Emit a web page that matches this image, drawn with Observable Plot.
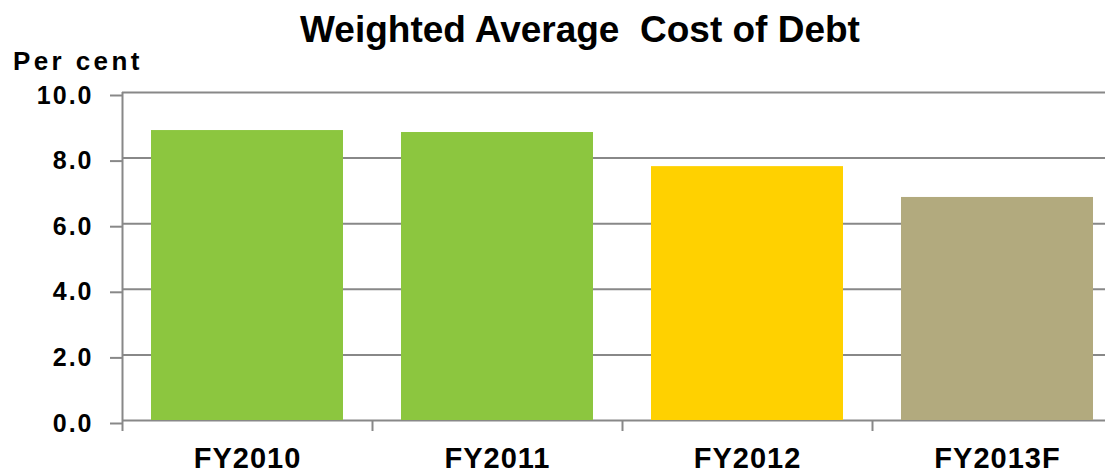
<!DOCTYPE html>
<html>
<head>
<meta charset="utf-8">
<script src="https://cdn.jsdelivr.net/npm/d3@7"></script>
<script src="https://cdn.jsdelivr.net/npm/@observablehq/plot@0.6"></script>
<style>
  html, body { margin: 0; padding: 0; background: #fff; }
  #wrap { position: relative; width: 1105px; height: 471px; font-family: "Liberation Sans", Arial, sans-serif; font-weight: bold; color: #000; }
  #head { position: relative; height: 80px; }
  #title { position: absolute; left: 580px; top: 11px; transform: translateX(-50%); font-size: 37px; line-height: 1; white-space: pre; }
  #unit { position: absolute; left: 13px; top: 48px; font-size: 26px; line-height: 1; letter-spacing: 3.4px; white-space: pre; }
  #chart svg { display: block; overflow: visible; }
  .ylab text { letter-spacing: 2px; }
  .xlab text { letter-spacing: 1px; }
</style>
</head>
<body>
<div id="wrap">
  <div id="head">
    <div id="title"></div>
    <div id="unit"></div>
  </div>
  <div id="chart"></div>
</div>
<script>
const titleText = "Weighted Average  Cost of Debt";
const unitText = "Per cent";
const categories = ["FY2010", "FY2011", "FY2012", "FY2013F"];
const values = [8.84, 8.78, 7.74, 6.80];
const colors = ["#8CC63F", "#8CC63F", "#FFD100", "#B2AA7E"];
const yTicks = [0, 2, 4, 6, 8, 10];
const gridTicks = [2, 4, 6, 8, 10];

document.getElementById("title").textContent = titleText;
document.getElementById("unit").textContent = unitText;

const data = categories.map((c, i) => ({cat: c, value: values[i], color: colors[i]}));
const halfStep = -125;

const chart = Plot.plot({
  width: 1105,
  height: 391,
  marginTop: 12,
  marginBottom: 51,
  marginLeft: 122,
  marginRight: 0,
  style: {fontFamily: "Liberation Sans, Arial, sans-serif", fontWeight: "bold", color: "#000", background: "#fff"},
  x: {domain: categories, range: [122, 1122], paddingInner: 0.232, paddingOuter: 0.116, label: null},
  y: {domain: [0, 10], label: null},
  marks: [
    Plot.ruleY(gridTicks, {stroke: "#888", strokeWidth: 2}),
    Plot.ruleY([0], {stroke: "#888", strokeWidth: 2}),
    Plot.barY(data, {x: "cat", y: "value", fill: "color"}),
    Plot.axisY({ticks: yTicks, tickFormat: d3.format(".1f"), tickSize: 12, tickPadding: 17, fontSize: 25, stroke: "#888", strokeWidth: 2, dy: 3, label: null, className: "ylab"}),
    Plot.axisX({tickSize: 11, dx: halfStep, text: null, stroke: "#888", strokeWidth: 2, label: null}),
    Plot.ruleX([categories[0]], {dx: halfStep, y1: 10, y2: 0, stroke: "#888", strokeWidth: 2}),
    Plot.axisX({tickSize: 0, tickPadding: 27, fontSize: 29, label: null, className: "xlab"})
  ]
});
document.getElementById("chart").appendChild(chart);
</script>
</body>
</html>
